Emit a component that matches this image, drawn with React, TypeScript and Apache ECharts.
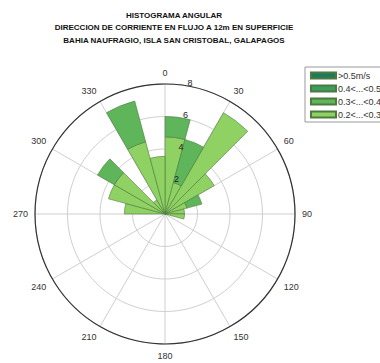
import React, { useEffect, useRef } from "react";
import * as echarts from "echarts";

const titleLines = [
  "HISTOGRAMA ANGULAR",
  "DIRECCION DE CORRIENTE EN FLUJO A 12m EN SUPERFICIE",
  "BAHIA NAUFRAGIO, ISLA SAN CRISTOBAL, GALAPAGOS",
];

// 24 direction bins of 15 degrees, clockwise from north
const bins = [
  "0-15", "15-30", "30-45", "45-60", "60-75", "75-90", "90-105", "105-120",
  "120-135", "135-150", "150-165", "165-180", "180-195", "195-210", "210-225",
  "225-240", "240-255", "255-270", "270-285", "285-300", "300-315", "315-330",
  "330-345", "345-360",
];

const classNames = [">0.5m/s", "0.4<...<0.5", "0.3<...<0.4", "0.2<...<0.3"];

const s02_03 = [4.75, 2.0, 7.2, 3.5, 1.4, 1.2, 1.2, 0, 0, 0, 0, 0, 0, 0, 0, 0, 0, 0, 2.5, 3.6, 3.6, 1.0, 4.6, 3.55];
const s03_04 = [1.25, 2.75, 0, 0, 0.95, 0, 0, 0, 0, 0, 0, 0, 0, 0, 0, 0, 0, 0, 0, 0, 1.2, 0, 2.6, 0];
const s04_05 = [0, 0, 0, 0, 0, 0, 0, 0, 0, 0, 0, 0, 0, 0, 0, 0, 0, 0, 0, 0, 0, 0, 0, 0];
const s05 = [0, 0, 0, 0, 0, 0, 0, 0, 0, 0, 0, 0, 0, 0, 0, 0, 0, 0, 0, 0, 0, 0, 0, 0];

const classColors = ["#1d7a5e", "#3c9d61", "#5eb55a", "#8fd163"];

const angleTicks = [0, 30, 60, 90, 120, 150, 180, 210, 240, 270, 300, 330];
const radiusTicks = [2, 4, 6, 8];

const FONT = "Liberation Sans, Arial, sans-serif";

export default function App() {
  const ref = useRef<HTMLDivElement>(null);
  useEffect(() => {
    if (!ref.current) return;
    const chart = echarts.init(ref.current, null, { renderer: "svg" });
    const center = [165, 214];
    const radius = 130;
    const seriesData = [s02_03, s03_04, s04_05, s05];
    const seriesNames = ["0.2<...<0.3", "0.3<...<0.4", "0.4<...<0.5", ">0.5m/s"];
    const seriesColors = ["#8fd163", "#5eb55a", "#3c9d61", "#1d7a5e"];
    chart.setOption({
      animation: false,
      backgroundColor: "#ffffff",
      title: titleLines.map((t, i) => ({
        text: t,
        left: 174,
        textAlign: "center",
        top: 10 + i * 12.8,
        padding: 0,
        textStyle: {
          fontFamily: FONT,
          fontSize: 8,
          fontWeight: "bold",
          lineHeight: 10,
          color: "#111",
        },
      })),
      legend: {
        data: classNames,
        orient: "vertical",
        left: 305,
        top: 67,
        itemWidth: 25,
        itemHeight: 6,
        itemGap: 4,
        padding: [4, 3, 3, 5],
        borderColor: "#999",
        borderWidth: 1,
        borderRadius: 0,
        icon: "rect",
        textStyle: { fontSize: 9, lineHeight: 6, color: "#333", padding: [0, 0, 0, -3], fontFamily: FONT },
      },
      polar: [
        { center, radius },
        { center, radius },
        { center, radius: [4, 134] },
      ],
      angleAxis: [
        {
          polarIndex: 0,
          type: "category",
          data: bins,
          startAngle: 90,
          clockwise: true,
          boundaryGap: true,
          axisLine: { show: false },
          axisTick: { show: false },
          axisLabel: { show: false },
          splitLine: { show: false },
        },
        {
          polarIndex: 1,
          type: "value",
          min: 0,
          max: 360,
          interval: 30,
          startAngle: 90,
          clockwise: true,
          axisLine: { show: true, lineStyle: { color: "#333", width: 1.2 } },
          axisTick: { show: false },
          axisLabel: {
            margin: 7,
            fontSize: 9,
            color: "#333",
            fontFamily: FONT,
            formatter: (v: number) => (angleTicks.includes(v) && v !== 360 ? String(v) : ""),
          },
          splitLine: { show: true, lineStyle: { color: "#cfcfcf", width: 1 } },
        },
        {
          polarIndex: 2,
          type: "value",
          min: 0,
          max: 360,
          startAngle: 82,
          show: false,
        },
      ],
      radiusAxis: [
        { polarIndex: 0, min: 0, max: 8, show: false },
        {
          polarIndex: 1,
          min: 0,
          max: 8,
          interval: 2,
          axisLine: { show: false },
          axisTick: { show: false },
          axisLabel: { show: false },
          splitLine: { show: true, lineStyle: { color: "#cfcfcf", width: 1 } },
        },
        {
          polarIndex: 2,
          min: 0,
          max: 8,
          interval: 2,
          z: 10,
          axisLine: { show: false },
          axisTick: { show: false },
          splitLine: { show: false },
          axisLabel: {
            show: true,
            inside: true,
            fontSize: 9,
            color: "#222",
            margin: -9,
            fontFamily: FONT,
            formatter: (v: number) => (radiusTicks.includes(v) ? String(v) : ""),
          },
        },
      ],
      series: seriesData.map((d, i) => ({
        type: "bar",
        name: seriesNames[i],
        coordinateSystem: "polar",
        polarIndex: 0,
        stack: "rose",
        data: d.map((v) => (v === 0 ? null : v)),
        barCategoryGap: "0%",
        barGap: "0%",
        itemStyle: { color: seriesColors[i], borderColor: "#4d7a3f", borderWidth: 0.6 },
        z: 3,
      })),
      color: classColors,
    });
    return () => chart.dispose();
  }, []);
  return (
    <div
      ref={ref}
      style={{ position: "fixed", left: 0, top: 0, width: 380, height: 363 }}
    />
  );
}
